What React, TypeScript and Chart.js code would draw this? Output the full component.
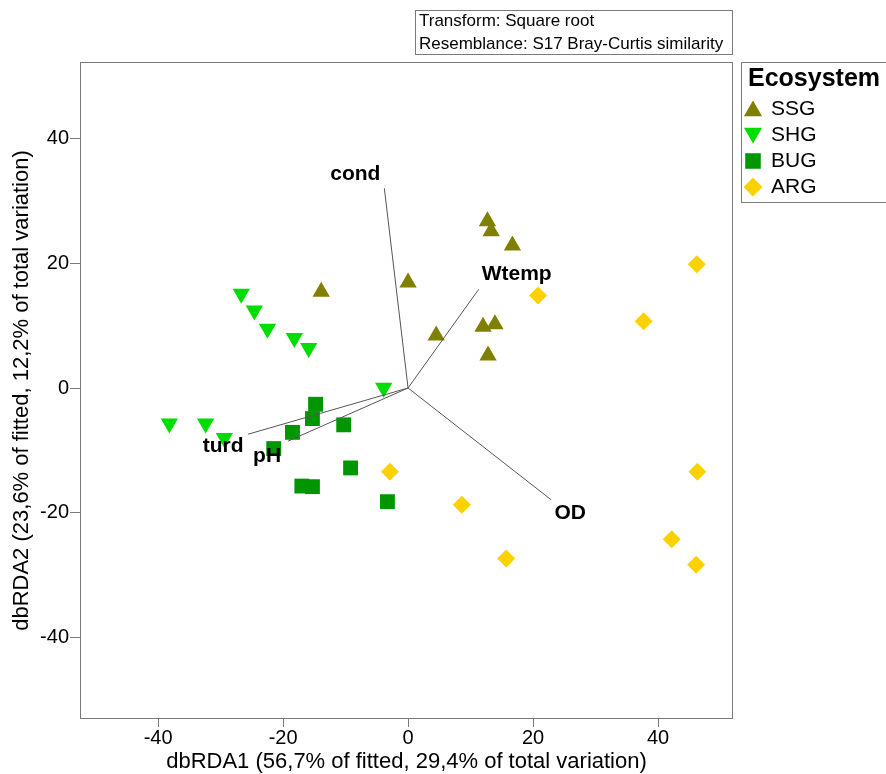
import React, { useEffect, useRef } from 'react';
import { Chart, registerables } from 'chart.js';

Chart.register(...registerables);

const FONT = '"Liberation Sans", Arial, Helvetica, sans-serif';

// ---- data ----
const groups = ['SSG', 'SHG', 'BUG', 'ARG'];
const ssgX = [-13.9, 0.0, 4.5, 12.7, 13.3, 16.7, 12.0, 13.9, 12.8];
const ssgY = [15.4, 16.9, 8.4, 26.7, 25.1, 22.8, 9.8, 10.2, 5.2];
const shgX = [-26.7, -24.6, -22.5, -18.2, -15.9, -3.9, -38.2, -32.4, -29.4];
const shgY = [15.1, 12.4, 9.5, 8.0, 6.4, 0.05, -5.7, -5.7, -8.0];
const bugX = [-14.8, -15.3, -10.3, -18.5, -21.5, -9.2, -17.0, -15.3, -3.3];
const bugY = [-2.6, -4.9, -5.9, -7.1, -9.7, -12.8, -15.7, -15.8, -18.2];
const argX = [20.8, -2.9, 8.6, 15.7, 46.2, 37.7, 46.3, 42.2, 46.1];
const argY = [14.8, -13.4, -18.7, -27.3, 19.8, 10.7, -13.4, -24.2, -28.3];

const vectorNames = ['cond', 'Wtemp', 'OD', 'turd', 'pH'];
const vectorX = [-3.8, 11.3, 22.9, -25.6, -19.2];
const vectorY = [32.0, 15.8, -17.9, -7.4, -8.5];

const xTicks = [-40, -20, 0, 20, 40];
const yTicks = [-40, -20, 0, 20, 40];
const xRange = [-52.5, 52];
const yRange = [-53, 52.2];

const xTitle = 'dbRDA1 (56,7% of fitted, 29,4% of total variation)';
const yTitle = 'dbRDA2 (23,6% of fitted, 12,2% of total variation)';
const infoLines = ['Transform: Square root', 'Resemblance: S17 Bray-Curtis similarity'];
const legendTitle = 'Ecosystem';

// ---- styles ----
const groupColors = ['#808000', '#00dd00', '#009600', '#fbd200'];
const groupShapes = ['up', 'down', 'square', 'diamond'];
const groupRadius = [10, 10, 10.5, 9];
const vectorLabelOffsets = [
  [-29, -14],
  [38, -15],
  [19, 13],
  [-25, 12],
  [-21, 15],
];

function toPoints(xs: number[], ys: number[]) {
  return xs.map((x, i) => ({ x, y: ys[i] }));
}

function chartStyle(shape: string) {
  if (shape === 'up') return { pointStyle: 'triangle', rotation: 0 };
  if (shape === 'down') return { pointStyle: 'triangle', rotation: 180 };
  if (shape === 'square') return { pointStyle: 'rect', rotation: 0 };
  return { pointStyle: 'rectRot', rotation: 0 };
}

function drawMarker(ctx: CanvasRenderingContext2D, shape: string, x: number, y: number, r: number, color: string) {
  ctx.save();
  ctx.fillStyle = color;
  ctx.beginPath();
  const s = Math.sin(Math.PI / 3) * r;
  if (shape === 'up') {
    ctx.moveTo(x, y - r);
    ctx.lineTo(x + s, y + r / 2);
    ctx.lineTo(x - s, y + r / 2);
  } else if (shape === 'down') {
    ctx.moveTo(x, y + r);
    ctx.lineTo(x + s, y - r / 2);
    ctx.lineTo(x - s, y - r / 2);
  } else if (shape === 'square') {
    const h = r * Math.SQRT1_2;
    ctx.rect(x - h, y - h, 2 * h, 2 * h);
  } else {
    ctx.moveTo(x, y - r);
    ctx.lineTo(x + r, y);
    ctx.lineTo(x, y + r);
    ctx.lineTo(x - r, y);
  }
  ctx.closePath();
  ctx.fill();
  ctx.restore();
}

const seriesX = [ssgX, shgX, bugX, argX];
const seriesY = [ssgY, shgY, bugY, argY];

export default function App() {
  const ref = useRef<HTMLCanvasElement | null>(null);

  useEffect(() => {
    const canvas = ref.current;
    if (!canvas) return;

    const pointSets = groups.map((g, i) => {
      const st = chartStyle(groupShapes[i]);
      return {
        label: g,
        data: toPoints(seriesX[i], seriesY[i]),
        pointStyle: st.pointStyle,
        rotation: st.rotation,
        pointRadius: groupRadius[i],
        backgroundColor: groupColors[i],
        borderColor: groupColors[i],
        borderWidth: 0,
        showLine: false,
        order: 2,
      };
    });

    const vectorSets = vectorNames.map((n, i) => ({
      label: n,
      data: [
        { x: 0, y: 0 },
        { x: vectorX[i], y: vectorY[i] },
      ],
      showLine: true,
      borderColor: '#555555',
      borderWidth: 1,
      pointRadius: 0,
      backgroundColor: 'transparent',
      order: 0,
    }));

    const overlay = {
      id: 'overlay',
      afterDatasetsDraw(chart: any) {
        const { ctx, scales } = chart;
        ctx.save();
        ctx.fillStyle = '#000';
        ctx.font = `bold 21px ${FONT}`;
        ctx.textAlign = 'center';
        ctx.textBaseline = 'middle';
        vectorNames.forEach((n, i) => {
          const px = scales.x.getPixelForValue(vectorX[i]) + vectorLabelOffsets[i][0];
          const py = scales.y.getPixelForValue(vectorY[i]) + vectorLabelOffsets[i][1];
          ctx.fillText(n, px, py);
        });
        ctx.restore();
      },
      afterDraw(chart: any) {
        const { ctx, chartArea } = chart;
        const { left, right, top, bottom } = chartArea;
        ctx.save();
        // frame
        ctx.strokeStyle = '#7a7a7a';
        ctx.lineWidth = 1;
        ctx.strokeRect(Math.round(left) + 0.5, Math.round(top) + 0.5, Math.round(right - left) - 1, Math.round(bottom - top) - 1);

        // info box
        const bx = 415;
        const by = 10;
        ctx.strokeRect(bx + 0.5, by + 0.5, Math.round(right) - bx - 1, 44);
        ctx.fillStyle = '#000';
        ctx.font = `17px ${FONT}`;
        ctx.textAlign = 'left';
        ctx.textBaseline = 'middle';
        infoLines.forEach((t, i) => ctx.fillText(t, bx + 4, by + 11 + i * 23));

        // legend
        const lx = Math.round(right) + 8;
        const ly = Math.round(top);
        ctx.strokeRect(lx + 0.5, ly + 0.5, 200, 140);
        ctx.font = `bold 25px ${FONT}`;
        ctx.fillText(legendTitle, lx + 7, ly + 17);
        ctx.font = `21px ${FONT}`;
        groups.forEach((g, i) => {
          const yy = ly + 47 + i * 26;
          drawMarker(ctx, groupShapes[i], lx + 12, yy + (groupShapes[i] === 'up' ? 2 : groupShapes[i] === 'down' ? -2 : 0), groupRadius[i] + 0.5, groupColors[i]);
          ctx.fillStyle = '#000';
          ctx.fillText(g, lx + 30, yy);
        });
        ctx.restore();
      },
    };

    const chart = new Chart(canvas, {
      type: 'scatter',
      data: { datasets: [...pointSets, ...vectorSets] as any },
      options: {
        responsive: false,
        animation: false,
        devicePixelRatio: 1,
        events: [],
        layout: { padding: { top: 62, right: 153, left: 0, bottom: 0 } },
        plugins: { legend: { display: false }, tooltip: { enabled: false } },
        scales: {
          x: {
            type: 'linear',
            min: xRange[0],
            max: xRange[1],
            afterBuildTicks: (s: any) => {
              s.ticks = xTicks.map((v) => ({ value: v }));
            },
            afterFit: (s: any) => {
              s.height = 55;
            },
            grid: { drawOnChartArea: false, drawTicks: true, tickLength: 8, color: '#7a7a7a' },
            border: { display: false },
            ticks: {
              color: '#000',
              font: { family: FONT, size: 20, lineHeight: 1.0 },
              padding: 1,
              maxRotation: 0,
              autoSkip: false,
            },
            title: {
              display: true,
              text: xTitle,
              color: '#000',
              font: { family: FONT, size: 22, lineHeight: 1.1 },
              padding: { top: 0, bottom: 0 },
            },
          },
          y: {
            type: 'linear',
            min: yRange[0],
            max: yRange[1],
            afterBuildTicks: (s: any) => {
              s.ticks = yTicks.map((v) => ({ value: v }));
            },
            afterFit: (s: any) => {
              s.width = 80;
            },
            grid: { drawOnChartArea: false, drawTicks: true, tickLength: 10, color: '#7a7a7a' },
            border: { display: false },
            ticks: {
              color: '#000',
              font: { family: FONT, size: 20 },
              padding: 1,
              autoSkip: false,
            },
            title: {
              display: true,
              text: yTitle,
              color: '#000',
              font: { family: FONT, size: 22 },
              padding: { top: 9, bottom: 0 },
            },
          },
        },
      } as any,
      plugins: [overlay],
    });

    return () => chart.destroy();
  }, []);

  return (
    <div style={{ position: 'absolute', left: 0, top: 0, width: 886, height: 774, background: '#fff' }}>
      <canvas ref={ref} width={886} height={774} style={{ display: 'block' }} />
    </div>
  );
}
